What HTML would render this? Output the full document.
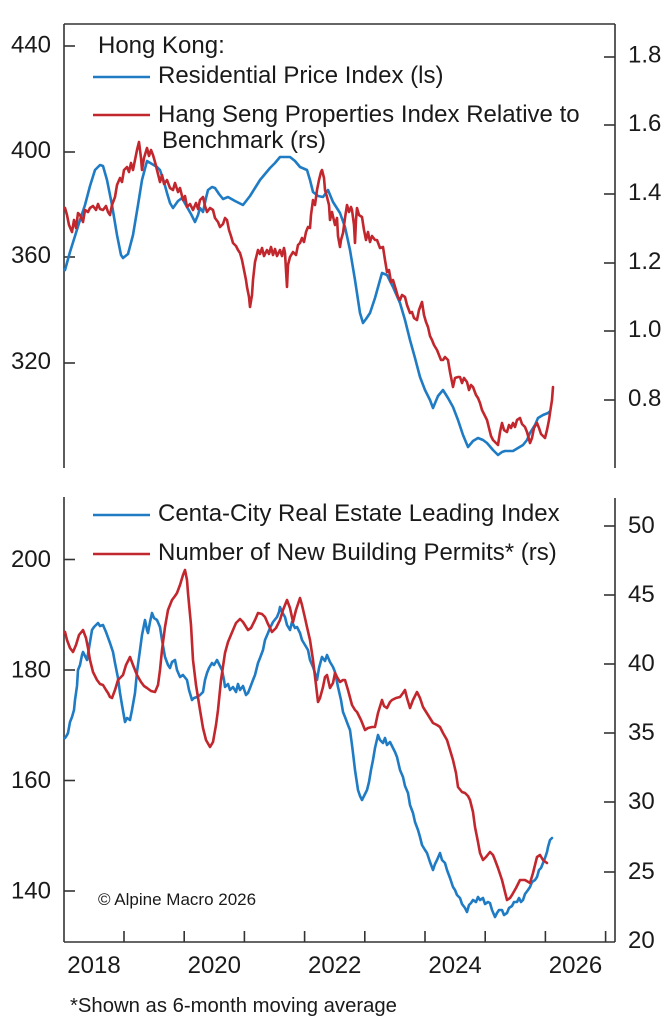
<!DOCTYPE html>
<html>
<head>
<meta charset="utf-8">
<style>
  html, body { margin: 0; padding: 0; background: #ffffff; }
  svg { display: block; }
  text { font-family: "Liberation Sans", Arial, sans-serif; fill: #1a1a1a; }
</style>
</head>
<body>
<svg width="672" height="1024" viewBox="0 0 672 1024" xmlns="http://www.w3.org/2000/svg">
  <rect x="0" y="0" width="672" height="1024" fill="#ffffff"/>

  <!-- ================= TOP PANEL ================= -->
  <g stroke="#333" stroke-width="1.6" fill="none">
    <line x1="64" y1="24" x2="615" y2="24"/>
    <line x1="64" y1="24" x2="64" y2="468"/>
    <line x1="615" y1="24" x2="615" y2="468"/>
    <!-- left ticks -->
    <line x1="64" y1="46" x2="75" y2="46"/>
    <line x1="64" y1="152" x2="75" y2="152"/>
    <line x1="64" y1="257" x2="75" y2="257"/>
    <line x1="64" y1="363" x2="75" y2="363"/>
    <!-- right ticks -->
    <line x1="604" y1="57" x2="615" y2="57"/>
    <line x1="604" y1="125" x2="615" y2="125"/>
    <line x1="604" y1="194" x2="615" y2="194"/>
    <line x1="604" y1="263" x2="615" y2="263"/>
    <line x1="604" y1="331" x2="615" y2="331"/>
    <line x1="604" y1="400" x2="615" y2="400"/>
  </g>
  <g font-size="24" text-anchor="end">
    <text x="51" y="52.5">440</text>
    <text x="51" y="158">400</text>
    <text x="51" y="263">360</text>
    <text x="51" y="369">320</text>
  </g>
  <g font-size="24" text-anchor="start">
    <text x="628" y="62.5">1.8</text>
    <text x="628" y="131">1.6</text>
    <text x="628" y="200">1.4</text>
    <text x="628" y="269">1.2</text>
    <text x="628" y="337">1.0</text>
    <text x="628" y="406">0.8</text>
  </g>

  <!-- top series -->
  <polyline fill="none" stroke="#1f7cc4" stroke-width="2.6" stroke-linejoin="round" stroke-linecap="round"
    points="65,270 70,252 75,236 80,220 85,205 90,186 95,170 100,165 103,166 107,180 112,205 117,235 121,255 123,258 128,254 133,235 138,205 142,180 147,161 152,164 157,167 160,170 164,182 167,193 170,203 173,208 178,201 182,198 187,207 191,214 195,222 198,215 200,208 203,212 206,198 208,190 212,187 215,188 219,194 223,199 228,197 235,201 243,205 250,196 255,188 260,180 265,174 270,168 275,163 280,157 285,157 290,157 295,161 300,167 307,170 310,180 313,192 318,196 323,197 328,190 333,202 340,213 345,227 350,250 355,280 360,313 363,323 366,319 370,313 375,298 380,280 382,273 387,275 393,287 400,303 405,320 410,340 415,358 420,377 425,390 430,400 433,408 438,396 443,390 448,398 453,407 458,420 463,435 468,447 473,441 478,438 483,440 487,443 493,450 498,455 502,452 505,451 513,451 518,448 523,445 527,440 530,433 535,425 538,418 543,415 548,413 549,412"/>
  <polyline fill="none" stroke="#c1272d" stroke-width="2.6" stroke-linejoin="round" stroke-linecap="round"
    points="65,208 67,215 69,225 72,232 74,220 76,228 78,213 80,215 83,222 85,210 88,212 90,208 93,206 96,210 98,204 100,209 103,210 106,206 108,212 110,215 112,205 115,197 117,185 120,178 122,182 124,170 127,167 129,172 131,163 133,170 135,160 137,150 139,142 141,158 142,170 144,158 147,148 149,156 151,150 153,155 155,162 157,170 160,182 162,175 164,184 167,180 170,188 173,190 175,183 178,192 180,188 183,200 185,196 187,207 190,204 193,210 196,203 198,209 200,200 203,197 205,206 207,212 210,208 213,210 215,218 218,222 220,227 223,224 225,218 227,220 229,230 231,236 233,243 236,246 238,250 240,253 242,260 244,270 246,280 247,287 249,297 250,307 252,295 253,280 255,262 258,250 260,254 262,248 264,256 267,250 269,254 271,247 273,255 275,249 277,256 280,250 282,256 284,248 285,253 287,287 288,265 290,257 293,252 296,255 298,245 300,243 302,238 304,242 306,232 308,227 310,228 311,215 313,200 315,205 317,190 319,180 321,172 322,170 324,178 325,190 327,197 329,205 330,220 332,212 335,225 337,218 338,236 340,247 341,240 343,233 345,218 347,205 349,212 351,207 352,210 354,225 355,243 356,220 357,208 359,215 362,217 364,230 366,240 368,232 370,242 372,236 375,240 377,240 380,248 383,247 385,260 387,272 389,270 391,282 393,280 396,290 398,297 400,300 402,295 405,297 407,305 410,313 412,312 414,318 417,320 419,310 422,302 424,315 426,322 428,327 430,336 432,340 434,345 437,350 439,355 441,360 443,360 445,357 448,360 450,372 453,387 455,378 458,377 460,377 462,383 464,378 467,382 469,390 471,385 473,387 476,395 478,398 480,403 482,410 484,414 487,420 489,428 491,436 493,440 495,442 498,445 500,432 502,423 504,430 507,432 509,425 511,428 513,423 515,427 517,420 520,418 522,424 525,427 527,432 530,443 532,438 534,428 537,423 539,428 541,434 543,436 545,438 547,430 549,420 550,413 552,400 553,387"/>

  <!-- top legend -->
  <text x="98" y="53" font-size="24">Hong Kong:</text>
  <line x1="93" y1="77" x2="150" y2="77" stroke="#1f7cc4" stroke-width="2.6"/>
  <text x="158" y="83" font-size="24">Residential Price Index (ls)</text>
  <line x1="93" y1="115" x2="150" y2="115" stroke="#c1272d" stroke-width="2.6"/>
  <text x="158" y="122" font-size="24">Hang Seng Properties Index Relative to</text>
  <text x="162" y="148" font-size="24">Benchmark (rs)</text>

  <!-- ================= BOTTOM PANEL ================= -->
  <g stroke="#333" stroke-width="1.6" fill="none">
    <line x1="64" y1="497" x2="64" y2="942"/>
    <line x1="615" y1="498" x2="615" y2="942"/>
    <line x1="64" y1="942" x2="615" y2="942"/>
    <!-- left ticks -->
    <line x1="64" y1="559.5" x2="75" y2="559.5"/>
    <line x1="64" y1="670" x2="75" y2="670"/>
    <line x1="64" y1="780.5" x2="75" y2="780.5"/>
    <line x1="64" y1="891" x2="75" y2="891"/>
    <!-- right ticks -->
    <line x1="604" y1="526" x2="615" y2="526"/>
    <line x1="604" y1="595" x2="615" y2="595"/>
    <line x1="604" y1="664" x2="615" y2="664"/>
    <line x1="604" y1="733" x2="615" y2="733"/>
    <line x1="604" y1="802" x2="615" y2="802"/>
    <line x1="604" y1="872" x2="615" y2="872"/>
    <!-- x ticks -->
    <line x1="124" y1="931" x2="124" y2="942"/>
    <line x1="184.2" y1="931" x2="184.2" y2="942"/>
    <line x1="244.4" y1="931" x2="244.4" y2="942"/>
    <line x1="304.6" y1="931" x2="304.6" y2="942"/>
    <line x1="364.8" y1="931" x2="364.8" y2="942"/>
    <line x1="425" y1="931" x2="425" y2="942"/>
    <line x1="485.2" y1="931" x2="485.2" y2="942"/>
    <line x1="545.4" y1="931" x2="545.4" y2="942"/>
    <line x1="605.6" y1="931" x2="605.6" y2="942"/>
  </g>
  <g font-size="24" text-anchor="end">
    <text x="51" y="567">200</text>
    <text x="51" y="677.5">180</text>
    <text x="51" y="788">160</text>
    <text x="51" y="898.5">140</text>
  </g>
  <g font-size="24" text-anchor="start">
    <text x="628" y="533">50</text>
    <text x="628" y="602">45</text>
    <text x="628" y="671">40</text>
    <text x="628" y="740">35</text>
    <text x="628" y="809">30</text>
    <text x="628" y="879">25</text>
    <text x="628" y="948">20</text>
  </g>
  <g font-size="24" text-anchor="middle">
    <text x="94" y="973">2018</text>
    <text x="214.3" y="973">2020</text>
    <text x="334.7" y="973">2022</text>
    <text x="455.1" y="973">2024</text>
    <text x="575.5" y="973">2026</text>
  </g>

  <!-- bottom series -->
  <polyline fill="none" stroke="#1f7cc4" stroke-width="2.6" stroke-linejoin="round" stroke-linecap="round"
    points="65,738 67,735 68,733 70,722 72,717 74,710 75,700 77,686 78,670 80,665 82,655 83,652 85,656 87,660 89,648 92,630 94,627 96,625 98,623 100,626 103,625 106,632 110,643 113,652 115,663 118,678 120,693 122,705 125,722 127,718 130,720 132,710 135,693 137,672 140,650 142,635 145,620 147,630 148,633 150,622 152,613 154,618 157,620 160,627 162,640 165,657 168,665 170,668 172,662 175,660 177,670 180,677 183,675 187,680 189,690 192,700 194,698 197,697 200,695 203,692 205,680 207,673 209,668 212,663 214,665 217,660 219,664 222,670 224,680 225,687 228,684 230,690 233,687 236,692 238,684 240,690 243,686 246,695 248,693 250,688 253,680 255,675 258,663 260,658 263,650 265,640 268,633 270,628 273,622 277,617 279,612 280,607 282,612 285,617 287,625 290,630 292,622 295,628 297,627 300,633 302,640 305,645 308,650 310,660 313,667 315,673 317,680 319,668 322,657 325,661 327,655 330,662 333,667 335,672 338,687 341,700 343,712 345,717 348,725 350,730 352,745 353,753 355,770 358,790 360,796 362,800 364,796 367,790 369,782 371,770 373,760 375,748 378,735 380,740 383,743 385,738 387,745 390,742 393,748 395,752 397,757 400,770 403,777 405,786 408,793 410,805 413,813 415,822 418,830 420,837 422,845 425,850 427,853 430,862 433,870 435,864 437,860 440,853 442,860 445,863 447,870 450,878 453,887 455,890 457,895 460,898 462,904 465,908 467,912 469,905 471,903 473,900 476,902 478,897 480,900 483,898 485,904 488,902 490,903 492,910 495,917 497,913 499,910 502,910 504,915 507,913 509,908 512,906 514,902 517,902 519,898 521,902 523,900 525,894 528,890 530,887 532,882 535,880 537,877 539,870 541,868 543,863 545,858 547,852 548,847 550,840 552,838"/>
  <polyline fill="none" stroke="#c1272d" stroke-width="2.6" stroke-linejoin="round" stroke-linecap="round"
    points="65,632 67,640 70,648 73,652 76,645 79,635 83,630 86,638 88,648 90,660 93,672 97,680 100,684 103,685 106,690 108,693 110,697 112,698 115,690 118,680 121,677 123,675 126,665 130,657 133,665 137,675 141,682 144,686 147,688 151,691 155,692 158,685 160,670 162,650 165,627 168,610 172,600 175,596 177,593 180,585 183,575 185,570 187,580 188,593 191,625 193,660 196,685 200,710 203,728 206,740 210,747 213,742 216,725 218,710 221,680 225,653 228,642 233,630 236,623 240,619 243,622 248,630 251,628 255,620 258,613 262,614 265,617 268,624 272,632 276,628 280,620 283,610 287,600 290,608 293,622 296,610 300,598 302,605 305,618 307,627 310,640 313,660 316,685 318,702 320,698 323,687 325,677 327,675 330,688 333,683 335,673 337,677 340,682 343,680 345,680 348,690 352,705 355,710 357,712 361,720 365,730 368,728 372,727 375,727 378,713 382,700 384,706 387,708 390,702 392,700 396,698 400,697 403,693 405,690 407,698 410,708 413,700 417,692 420,698 423,707 428,715 433,723 437,725 440,727 443,733 447,740 450,750 453,760 456,773 458,787 462,792 465,793 468,796 470,800 473,812 475,827 478,842 480,853 483,860 486,857 490,852 493,855 495,860 498,868 502,880 505,892 507,900 510,898 512,895 516,888 520,880 525,880 530,883 533,873 537,857 540,855 543,860 547,863"/>

  <!-- bottom legend -->
  <line x1="93" y1="515" x2="150" y2="515" stroke="#1f7cc4" stroke-width="2.6"/>
  <text x="158" y="521" font-size="24">Centa-City Real Estate Leading Index</text>
  <line x1="93" y1="554" x2="150" y2="554" stroke="#c1272d" stroke-width="2.6"/>
  <text x="158" y="560" font-size="24">Number of New Building Permits* (rs)</text>

  <text x="98" y="905" font-size="17">© Alpine Macro 2026</text>

  <text x="70" y="1012" font-size="20.3">*Shown as 6-month moving average</text>
</svg>
</body>
</html>
